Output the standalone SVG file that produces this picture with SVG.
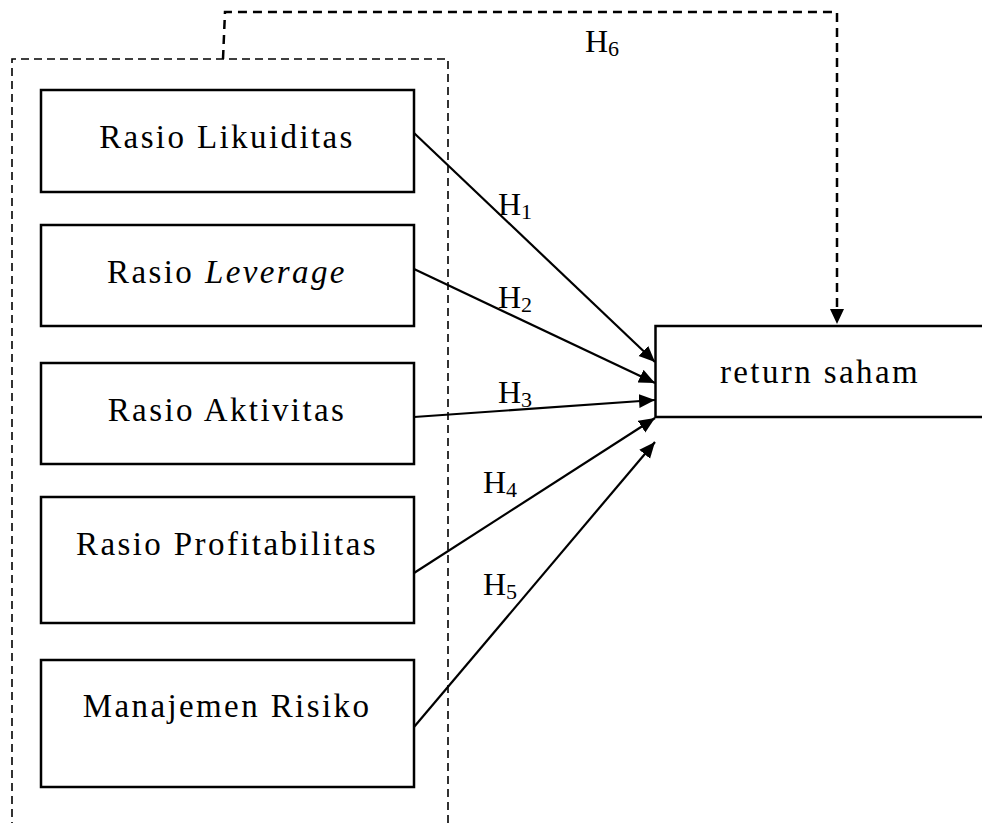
<svg xmlns="http://www.w3.org/2000/svg" width="982" height="823" viewBox="0 0 982 823">
<style>
.box{fill:#fff;stroke:#000;stroke-width:2.5}
.lbl{font-family:"Liberation Serif","Times New Roman",serif;font-size:33px;letter-spacing:2.4px;fill:#000}
.h{font-family:"Liberation Serif","Times New Roman",serif;font-size:32px;fill:#000}
.sub{font-size:22px}
.arr{stroke:#000;stroke-width:2.2;fill:none;marker-end:url(#ah)}
.dash{stroke:#000;stroke-width:1.6;fill:none;stroke-dasharray:8 5}
.dash6{stroke:#000;stroke-width:2.5;fill:none;stroke-dasharray:9 6}
</style>
<defs>
<marker id="ah" markerUnits="userSpaceOnUse" markerWidth="17" markerHeight="15" refX="16" refY="7" orient="auto">
<path d="M0,0 L16,7 L0,14 z" fill="#000"/>
</marker>
</defs>
<g id="group-box">
<path class="dash" d="M12,830 L12,59 L448,59 L448,830"/>
</g>
<g id="n1"><rect class="box" x="41" y="90" width="373" height="102"/><text class="lbl" x="227" y="148" text-anchor="middle">Rasio Likuiditas</text></g>
<g id="n2"><rect class="box" x="41" y="225" width="373" height="101"/><text class="lbl" x="227" y="283" text-anchor="middle">Rasio <tspan font-style="italic">Leverage</tspan></text></g>
<g id="n3"><rect class="box" x="41" y="363" width="373" height="101"/><text class="lbl" x="227" y="421" text-anchor="middle">Rasio Aktivitas</text></g>
<g id="n4"><rect class="box" x="41" y="497" width="373" height="126"/><text class="lbl" x="227" y="555" text-anchor="middle">Rasio Profitabilitas</text></g>
<g id="n5"><rect class="box" x="41" y="660" width="373" height="127"/><text class="lbl" x="227" y="717" text-anchor="middle">Manajemen Risiko</text></g>
<g id="target"><rect class="box" x="655.5" y="326" width="340" height="91"/><text class="lbl" x="820" y="383" text-anchor="middle">return saham</text></g>
<g id="connectors">
<line class="arr" x1="414" y1="133" x2="655" y2="362"/>
<line class="arr" x1="414" y1="269" x2="655" y2="383"/>
<line class="arr" x1="414" y1="417" x2="655" y2="400"/>
<line class="arr" x1="414" y1="573" x2="655" y2="418"/>
<line class="arr" x1="414" y1="727" x2="655" y2="442"/>
<path class="dash6" d="M223,59 L225,12 L837,12 L837,310"/>
<path d="M830,309 L844,309 L837,324 z" fill="#000"/>
</g>
<g id="labels">
<text class="h" x="498" y="215">H<tspan class="sub" dy="4">1</tspan></text>
<text class="h" x="498" y="308">H<tspan class="sub" dy="4">2</tspan></text>
<text class="h" x="498" y="403">H<tspan class="sub" dy="4">3</tspan></text>
<text class="h" x="483" y="493">H<tspan class="sub" dy="4">4</tspan></text>
<text class="h" x="483" y="595">H<tspan class="sub" dy="4">5</tspan></text>
<text class="h" x="585" y="52">H<tspan class="sub" dy="4">6</tspan></text>
</g>
</svg>
